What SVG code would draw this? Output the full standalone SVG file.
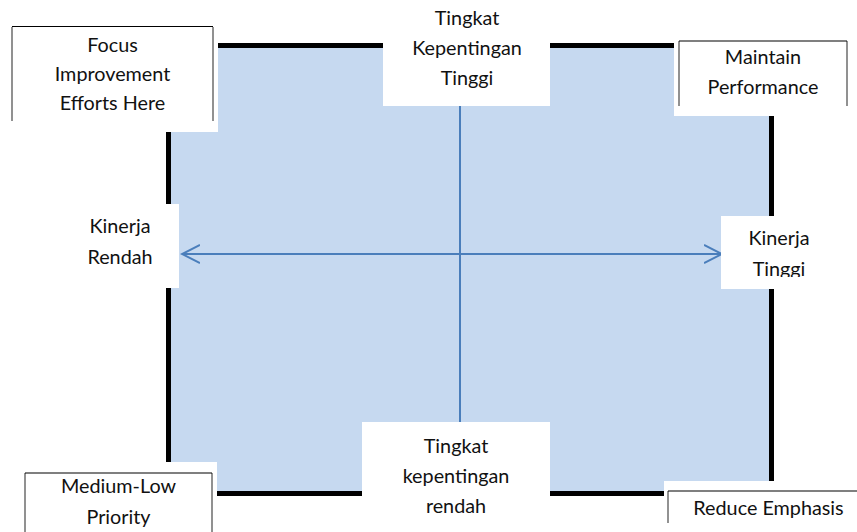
<svg xmlns="http://www.w3.org/2000/svg" width="857" height="532" viewBox="0 0 857 532">
<style>
.t{font-family:Lato,"Open Sans","Liberation Sans",sans-serif;font-size:19.8px;fill:#111;text-anchor:middle}
.bg{fill:#fff}
.bt{stroke:#000;stroke-width:1.2;fill:none}
.bs{stroke:#6e6e6e;stroke-width:1.5;fill:none}
.ax{stroke:#4A7EBB;stroke-width:2;fill:none}
</style>
<defs>
<marker id="ah" viewBox="0 0 20 20" refX="18" refY="10" markerWidth="20" markerHeight="20" markerUnits="userSpaceOnUse" orient="auto-start-reverse">
<path d="M0 1 L18 10 L0 19" fill="none" stroke="#4A7EBB" stroke-width="2"/>
</marker>
<clipPath id="ktClip"><rect x="721" y="216" width="120" height="61"/></clipPath>
</defs>
<g id="quadrant">
<rect x="168.5" y="45.5" width="603" height="448" fill="#C6D9F0" stroke="#000" stroke-width="5"/>
</g>
<g id="connectors">
<line class="ax" x1="460" y1="106" x2="460" y2="422"/>
<line class="ax" x1="182" y1="254" x2="722" y2="254" marker-start="url(#ah)" marker-end="url(#ah)"/>
</g>
<g id="focus">
<rect class="bg" x="10" y="25" width="208" height="107"/>
<path class="bs" d="M12 27 V121 M213 27 V121"/>
<path class="bt" d="M12 26.5 H213"/>
<text class="t" x="112.5" y="52">Focus</text>
<text class="t" x="112.5" y="81">Improvement</text>
<text class="t" x="112.5" y="110">Efforts Here</text>
</g>
<g id="maintain">
<rect class="bg" x="674" y="39" width="175" height="77"/>
<path class="bs" d="M679 41 V106 M847 41 V106"/>
<path class="bt" d="M679 41 H847"/>
<text class="t" x="763" y="64">Maintain</text>
<text class="t" x="763" y="94">Performance</text>
</g>
<g id="medium-low">
<rect class="bg" x="23" y="462" width="194" height="70"/>
<path class="bs" d="M25 473 V532 M212 473 V532"/>
<path class="bt" d="M25 473 H212"/>
<text class="t" x="118.5" y="493">Medium-Low</text>
<text class="t" x="118.5" y="524">Priority</text>
</g>
<g id="reduce">
<rect class="bg" x="664" y="481" width="193" height="51"/>
<path class="bs" d="M668 491 V523"/>
<path class="bt" d="M668 491 H857"/>
<text class="t" x="768.5" y="515">Reduce Emphasis</text>
</g>
<g id="high-importance">
<rect class="bg" x="383" y="0" width="167" height="106"/>
<text class="t" x="467" y="25">Tingkat</text>
<text class="t" x="467" y="55">Kepentingan</text>
<text class="t" x="467" y="85">Tinggi</text>
</g>
<g id="low-importance">
<rect class="bg" x="362" y="422" width="188" height="110"/>
<text class="t" x="456" y="453">Tingkat</text>
<text class="t" x="456" y="483">kepentingan</text>
<text class="t" x="456" y="513">rendah</text>
</g>
<g id="low-performance">
<rect class="bg" x="80" y="204" width="99" height="84"/>
<text class="t" x="120" y="233">Kinerja</text>
<text class="t" x="120" y="264">Rendah</text>
</g>
<g id="high-performance">
<rect class="bg" x="721" y="216" width="110" height="73"/>
<g clip-path="url(#ktClip)">
<text class="t" x="779" y="245">Kinerja</text>
<text class="t" x="779" y="276">Tinggi</text>
</g>
</g>
</svg>
